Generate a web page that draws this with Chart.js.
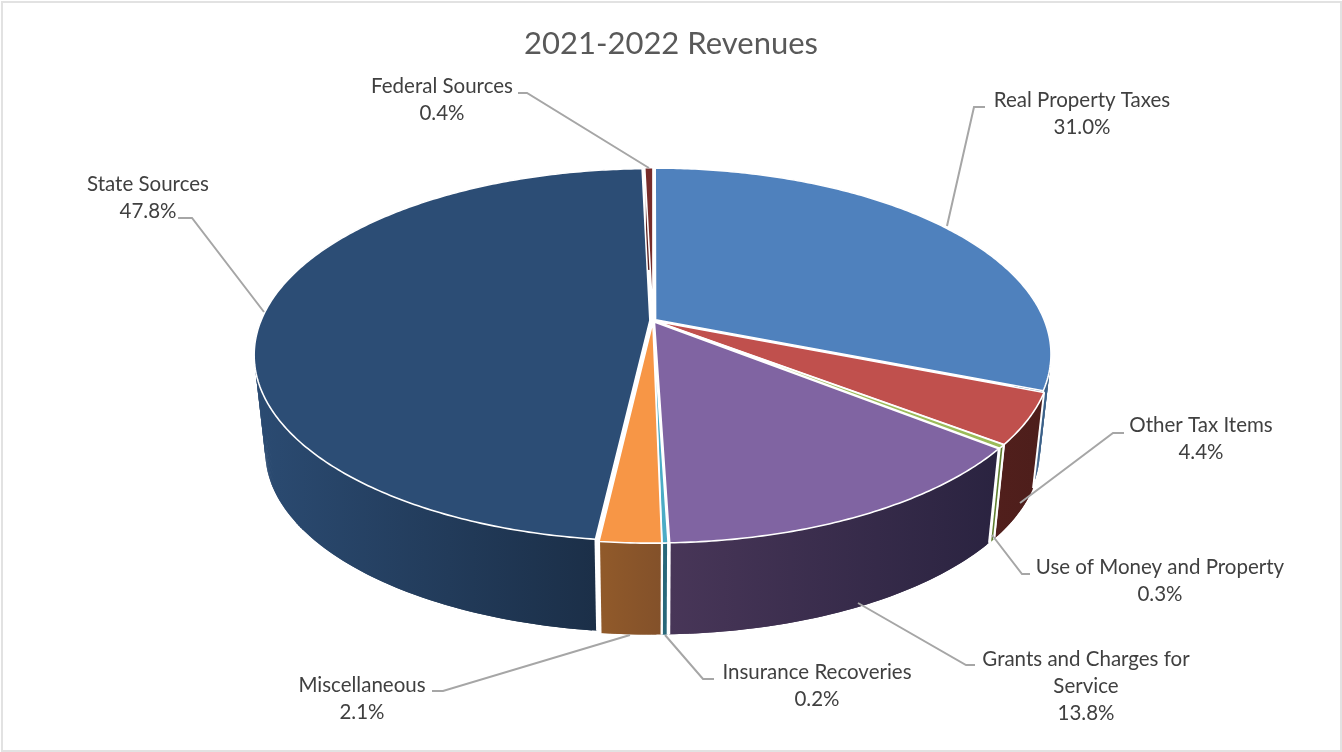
<!DOCTYPE html>
<html>
<head>
<meta charset="utf-8">
<title>2021-2022 Revenues</title>
<script src="https://cdn.jsdelivr.net/npm/chart.js@4"></script>
<style>
    html, body { margin: 0; padding: 0; background: #fff; overflow: hidden; }
    #frame { position: absolute; left: 1px; top: 1px; width: 1337px; height: 747px; border: 2px solid #e2e2e2; }
    #pie { position: absolute; left: 0; top: 0; }
</style>
</head>
<body>
<div id="frame"></div>
<canvas id="pie" width="1342" height="752"></canvas>
<script>
const categories = ['Real Property Taxes', 'Other Tax Items', 'Use of Money and Property', 'Grants and Charges for Service',
    'Insurance Recoveries', 'Miscellaneous', 'State Sources', 'Federal Sources'];
const shares = [31.0, 4.4, 0.3, 13.8, 0.2, 2.1, 47.8, 0.4];

const topColors = ['#4f81bd', '#c0504d', '#9bbb59', '#8064a2', '#4bacc6', '#f79646', '#2c4d75', '#772c2a'];
const wallLeft = ['#3b6088', '#511f1c', '#5f7f2e', '#483658', '#28687a', '#915a2a', '#2b4b72', '#5e2220'];
const wallRight = ['#3b6088', '#4d1e1b', '#5f7f2e', '#2a2340', '#28687a', '#83512a', '#192b42', '#5e2220'];

// label text lines, centre x, first line y, leader polyline
const callouts = [
    { lines: ['Real Property Taxes', '31.0%'], x: 1082, y: 100, leader: [[985, 107], [974, 107], [947, 226]] },
    { lines: ['Other Tax Items', '4.4%'], x: 1201, y: 425, leader: [[1124, 433], [1113, 433], [1020, 503]] },
    { lines: ['Use of Money and Property', '0.3%'], x: 1160, y: 567, leader: [[1030, 574], [1022, 574], [992, 535]] },
    { lines: ['Grants and Charges for', 'Service', '13.8%'], x: 1086, y: 659, leader: [[975, 665], [966, 665], [858, 603]] },
    { lines: ['Insurance Recoveries', '0.2%'], x: 817, y: 672, leader: [[714, 679], [703, 679], [665, 635]] },
    { lines: ['Miscellaneous', '2.1%'], x: 362, y: 685, leader: [[432, 691], [443, 691], [630, 635]] },
    { lines: ['State Sources', '47.8%'], x: 148, y: 184, leader: [[178, 218], [192, 218], [264, 312]] },
    { lines: ['Federal Sources', '0.4%'], x: 442, y: 86, leader: [[518, 93], [527, 93], [649, 168]] },
];

// Perspective of the tilted disc, relative to the arc radius Chart.js gives us
const TILT = 0.184;
const WIDE = 1.505;
const FLAT = 0.696;
const FLOOR_SCALE = 0.972;
const FLOOR_DROP = 0.378;
const EXPLODE = 0.008;
const SHIFT_X = -18; // the title stays centred on the page, the pie sits a bit left of it

function project(arc, angle, floor) {
    const R = arc.outerRadius;
    const mid = (arc.startAngle + arc.endAngle) / 2;
    const u = Math.cos(angle) + EXPLODE * Math.cos(mid);
    const v = Math.sin(angle) + EXPLODE * Math.sin(mid);
    const w = 1 - TILT * v;
    let dx = R * WIDE * u / w;
    let dy = R * FLAT * v / w;
    if (floor) {
        dx *= FLOOR_SCALE;
        dy = dy * FLOOR_SCALE + R * FLOOR_DROP;
    }
    return [arc.x + SHIFT_X + dx, arc.y + dy];
}

function apex(arc) {
    const mid = (arc.startAngle + arc.endAngle) / 2;
    const R = arc.outerRadius;
    const v = EXPLODE * Math.sin(mid);
    const w = 1 - TILT * v;
    return [arc.x + SHIFT_X + R * WIDE * EXPLODE * Math.cos(mid) / w, arc.y + R * FLAT * v / w];
}

function rimPoints(arc, floor) {
    const pts = [];
    const steps = Math.max(4, Math.ceil((arc.endAngle - arc.startAngle) * 90));
    for (let i = 0; i <= steps; i++) {
        pts.push(project(arc, arc.startAngle + (arc.endAngle - arc.startAngle) * i / steps, floor));
    }
    return pts;
}

function tracePath(ctx, pts, close) {
    ctx.beginPath();
    pts.forEach((p, i) => i ? ctx.lineTo(p[0], p[1]) : ctx.moveTo(p[0], p[1]));
    if (close) ctx.closePath();
}

const pie3d = {
    id: 'pie3d',
    beforeDatasetDraw(chart, args) {
        const ctx = chart.ctx;
        const arcs = args.meta.data;
        ctx.save();
        ctx.lineJoin = 'round';

        // side walls first, the top faces cover whatever lies behind them
        arcs.forEach((arc, i) => {
            const upper = rimPoints(arc, false);
            const lower = rimPoints(arc, true);
            const xs = upper.concat(lower).map(p => p[0]);
            const grad = ctx.createLinearGradient(Math.min(...xs), 0, Math.max(...xs), 0);
            grad.addColorStop(0, wallLeft[i]);
            grad.addColorStop(1, wallRight[i]);
            ctx.fillStyle = grad;
            // overlapping strips, one outline would leave a notch at the silhouette
            // and edge to edge strips show seams
            for (let k = 0; k < upper.length - 1; k++) {
                const n = Math.min(k + 2, upper.length - 1);
                tracePath(ctx, [upper[k], upper[n], lower[n], lower[k]], true);
                ctx.fill();
            }
            ctx.strokeStyle = '#fff';
            ctx.lineWidth = 2;
            tracePath(ctx, [upper[0], lower[0]]);
            ctx.stroke();
            tracePath(ctx, [upper[upper.length - 1], lower[lower.length - 1]]);
            ctx.stroke();
        });

        ctx.strokeStyle = '#fff';
        ctx.lineWidth = 1.6;
        arcs.forEach((arc, i) => {
            tracePath(ctx, [apex(arc)].concat(rimPoints(arc, false)), true);
            ctx.fillStyle = topColors[i];
            ctx.fill();
            ctx.stroke();
        });
        ctx.restore();
        return false; // flat arcs are replaced by the projected ones
    },
    afterDraw(chart) {
        const ctx = chart.ctx;
        ctx.save();
        ctx.strokeStyle = '#a6a6a6';
        ctx.lineWidth = 2;
        ctx.fillStyle = '#404040';
        ctx.font = "20.5px Lato";
        ctx.textAlign = 'center';
        ctx.textBaseline = 'middle';
        callouts.forEach(c => {
            tracePath(ctx, c.leader);
            ctx.stroke();
            c.lines.forEach((line, i) => ctx.fillText(line, c.x, c.y + i * 27));
        });
        ctx.restore();
    }
};

new Chart(document.getElementById('pie'), {
    type: 'pie',
    data: {
        labels: categories,
        datasets: [{ data: shares, backgroundColor: topColors, borderWidth: 0 }]
    },
    options: {
        responsive: false,
        animation: false,
        layout: { padding: { left: 0, right: 0, top: 0, bottom: 173 } },
        plugins: {
            legend: { display: false },
            tooltip: { enabled: false },
            title: {
                display: true,
                text: '2021-2022 Revenues',
                color: '#595959',
                font: { family: 'Lato', size: 31, weight: 'normal' },
                padding: { top: 25, bottom: 0 }
            }
        }
    },
    plugins: [pie3d]
});
</script>
</body>
</html>
